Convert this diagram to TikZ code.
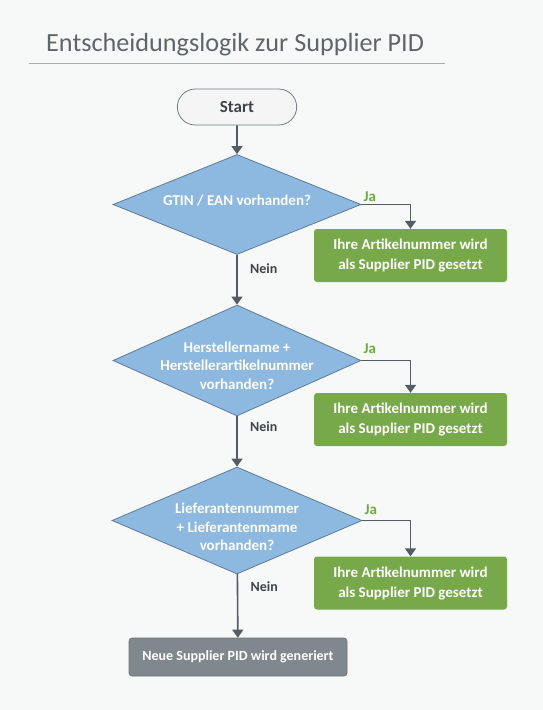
\documentclass[tikz,border=0pt]{standalone}
\usepackage{fontspec}
\setmainfont{Carlito}
\usetikzlibrary{shapes.geometric,shapes.misc,arrows.meta}
\definecolor{bg}{HTML}{F7F8F8}
\definecolor{titlec}{HTML}{5F6669}
\definecolor{rulec}{HTML}{A9ADB0}
\definecolor{dfill}{HTML}{8DB8DF}
\definecolor{dline}{HTML}{5E7C99}
\definecolor{gfill}{HTML}{77A94A}
\definecolor{grfill}{HTML}{7F888C}
\definecolor{arr}{HTML}{555D63}
\definecolor{jac}{HTML}{6FAA3E}
\definecolor{neinc}{HTML}{3E4447}
\tikzset{
  dec/.style={diamond, fill=dfill, draw=dline, line width=0.8pt, aspect=2.4, inner sep=0pt},
  dectext/.style={text=white, font=\fontsize{15}{18.5}\selectfont\bfseries, align=center, inner sep=0pt},
  resbox/.style={rectangle, rounded corners=3pt, fill=gfill, minimum width=193pt, minimum height=53pt, text=white, font=\fontsize{15}{20}\selectfont\bfseries, align=center},
  flow/.style={draw=arr, line width=1.6pt, -{Triangle[length=8pt,width=11pt]}},
  jalab/.style={text=jac, font=\fontsize{15}{17}\selectfont\bfseries, anchor=west, inner sep=0pt},
  neinlab/.style={text=neinc, font=\fontsize{14}{16}\selectfont\bfseries}
}
\begin{document}
\begin{tikzpicture}[x=1pt,y=-1pt]
\fill[bg] (0,0) rectangle (543,710);
\useasboundingbox (0,0) rectangle (543,710);
\node[anchor=base west, text=titlec, font=\fontsize{26.2}{30}\selectfont, inner sep=0pt] (title) at (46,51) {Entscheidungslogik zur Supplier PID};
\draw[rulec, line width=1pt] (29,63) -- (445,63);
\node[rounded rectangle, draw=arr!80, fill=black!4, line width=0.8pt, minimum width=126pt, minimum height=36pt, font=\fontsize{17}{19}\selectfont\bfseries, text=neinc] (start) at (237,107) {Start};

\node[dec, minimum width=248pt, minimum height=100pt] (d1) at (237,204.5) {};
\node[dec, minimum width=248pt, minimum height=111pt] (d2) at (237,360.5) {};
\node[dec, minimum width=250pt, minimum height=107pt] (d3) at (237,520.5) {};
\node[dectext] (t1) at (237,201) {GTIN / EAN vorhanden?};
\node[dectext] (t2) at (237,365.5) {Herstellername +\\Herstellerartikelnummer\\vorhanden?};
\node[dectext] (t3) at (237,527) {Lieferantennummer\\+ Lieferantenmame\\vorhanden?};

\node[resbox] (r1) at (410.5,255.5) {Ihre Artikelnummer wird\\als Supplier PID gesetzt};
\node[resbox] (r2) at (410.5,419.5) {Ihre Artikelnummer wird\\als Supplier PID gesetzt};
\node[resbox] (r3) at (410.5,583) {Ihre Artikelnummer wird\\als Supplier PID gesetzt};

\node[rectangle, rounded corners=3pt, fill=grfill, draw=grfill!85!black, line width=0.6pt, minimum width=218pt, minimum height=38pt, text=white, font=\fontsize{14}{16}\selectfont\bfseries] (new) at (238,657) {Neue Supplier PID wird generiert};

\draw[flow] (start) -- (d1);
\draw[flow] (d1) -- node[neinlab, pos=0.27, right=9pt] {Nein} (d2);
\draw[flow] (d2) -- node[neinlab, pos=0.2, right=9pt] {Nein} (d3);
\draw[flow] (d3) -- node[neinlab, pos=0.2, right=9pt] {Nein} (new);

\draw[flow] (d1.east) -| (r1.north);
\draw[flow] (d2.east) -| (r2.north);
\draw[flow] (d3.east) -| (r3.north);
\node[jalab] (ja1) at ([xshift=2pt,yshift=8pt]d1.east) {Ja};
\node[jalab] (ja2) at ([xshift=2pt,yshift=12pt]d2.east) {Ja};
\node[jalab] (ja3) at ([xshift=2pt,yshift=11pt]d3.east) {Ja};
\end{tikzpicture}
\end{document}
